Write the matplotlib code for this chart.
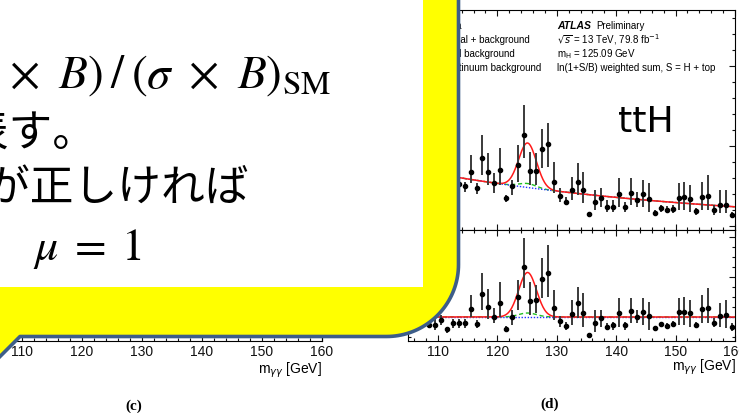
import numpy as np
import matplotlib
matplotlib.use("Agg")
import matplotlib.pyplot as plt
from matplotlib.path import Path
from matplotlib.patches import PathPatch, Rectangle
from matplotlib.ticker import MultipleLocator
from matplotlib.transforms import Affine2D

W, H, DPI = 739, 413, 100

# ---- ln(1+S/B)-weighted diphoton mass spectrum, 1 GeV bins (ttH category) ----
bin_centres = np.arange(105.5, 160.0, 1.0)

weighted_events = [6.0, 5.1, 6.1, 4.6, 4.5, 4.8, 3.8, 4.3, 4.2,
                   4.00, 5.43, 3.77, 6.83, 5.43, 4.27, 5.60, 2.77, 4.00, 6.10,
                   9.10, 5.50, 5.50, 7.67, 8.17, 4.43, 3.03, 2.43, 3.60, 4.43,
                   3.60, 1.20, 2.43, 2.83, 1.93, 1.93, 3.17, 1.87, 3.27, 2.60,
                   3.17, 2.67, 1.33, 1.77, 1.60, 1.70, 2.83, 2.93, 2.67, 1.50,
                   2.93, 3.00, 1.60, 2.10, 2.10, 1.10]
err_up = [1.0, 0.5, 1.2, 0.3, 0.67, 0.5, 0.23, 0.4, 0.4,
          0.43, 1.67, 0.5, 2.27, 1.83, 1.0, 2.17, 0.33, 0.6, 2.0,
          3.0, 1.93, 1.77, 2.0, 2.1, 2.0, 0.73, 0.5, 1.33, 1.83,
          1.83, 0.23, 1.17, 0.93, 0.67, 0.67, 1.6, 0.57, 1.5, 0.83,
          1.43, 1.6, 0.27, 0.33, 0.4, 0.4, 1.43, 1.5, 1.43, 0.33,
          1.5, 2.1, 0.5, 1.5, 1.5, 0.33]
err_down = [0.9, 0.5, 1.0, 0.3, 0.5, 0.5, 0.37, 0.5, 0.5,
            0.57, 1.17, 0.6, 1.73, 1.33, 1.0, 1.5, 0.33, 0.9, 1.67,
            2.33, 1.4, 1.4, 1.9, 2.23, 1.17, 0.6, 0.33, 1.0, 1.33,
            1.33, 0.27, 0.83, 0.9, 0.5, 0.5, 1.23, 0.43, 1.17, 0.67,
            1.23, 1.23, 0.23, 0.33, 0.33, 0.43, 1.23, 1.33, 1.23, 0.4,
            1.33, 1.4, 0.5, 0.83, 0.83, 0.33]

# data minus continuum background
residuals = [0.3, -0.5, 0.6, -0.8, -0.8, -0.3, -1.2, -0.63, -0.63,
             -0.63, 0.77, -0.7, 2.27, 1.03, 0.03, 1.37, -1.2, -0.03, 2.03,
             5.03, 1.6, 1.7, 3.8, 4.43, 0.87, -0.4, -0.9, 0.27, 1.37,
             0.43, -1.8, -0.63, -0.13, -0.97, -0.8, 0.43, -0.8, 0.6, 0.03,
             0.53, 0.1, -1.13, -0.73, -0.87, -0.7, 0.53, 0.53, 0.37, -0.8,
             0.77, 0.87, -0.57, 0.1, 0.2, -0.97]
res_err_up = [1.0, 0.5, 1.2, 0.3, 0.67, 0.5, 0.23, 0.4, 0.4,
              0.4, 1.43, 0.4, 2.1, 1.73, 0.83, 2.17, 0.3, 0.73, 1.67,
              2.83, 1.93, 1.5, 2.07, 2.77, 1.83, 0.5, 0.43, 1.43, 1.67,
              1.93, 0.17, 1.33, 0.83, 0.33, 0.33, 1.43, 0.33, 1.27, 0.67,
              1.33, 1.43, 0.23, 0.27, 0.3, 0.33, 1.33, 1.5, 1.33, 0.33,
              1.43, 2.0, 0.43, 1.33, 1.5, 0.33]
res_err_down = [0.9, 0.5, 1.0, 0.3, 0.5, 0.5, 0.37, 0.5, 0.5,
                0.5, 0.8, 0.43, 1.57, 1.27, 0.67, 1.33, 0.33, 0.77, 1.33,
                2.17, 1.4, 1.33, 1.93, 2.4, 1.17, 0.57, 0.4, 1.07, 1.5,
                1.4, 0.23, 0.83, 0.83, 0.33, 0.5, 1.4, 0.5, 1.23, 0.67,
                1.33, 1.4, 0.23, 0.3, 0.33, 0.33, 1.33, 1.33, 1.33, 0.33,
                1.4, 1.5, 0.47, 1.07, 1.33, 0.4]

# fitted model: exponential continuum + Higgs peak (+ small resonant background)
M_H = 125.09
PEAK_WIDTH = 1.5
SIGNAL_HEIGHT = 4.05
RESONANT_BKG_HEIGHT = 0.4
CONT_NORM = 4.77
CONT_REF = 114.3
CONT_SLOPE = 0.0199

legend_labels = ["Data", "Signal + background", "Total background",
                 "Continuum background"]
atlas_lines = [r"$\sqrt{s}$ = 13 TeV, 79.8 fb$^{-1}$",
               r"m$_{\mathrm{H}}$ = 125.09 GeV",
               "ln(1+S/B) weighted sum, S = H + top"]
x_ticks = [110, 120, 130, 140, 150, 160]

RED, GREEN, BLUE = "#ff1a1a", "#22c022", "#2233ff"
YELLOW, OUTLINE = "#ffff00", "#3d5d89"
TICK_FONT = "Liberation Sans"

fig = plt.figure(figsize=(W / DPI, H / DPI), dpi=DPI)
fig.patch.set_facecolor("white")
px = Affine2D().scale(1 / W, -1 / H).translate(0, 1) + fig.transFigure


def rect(x0, y0, x1, y1):
    return [x0 / W, 1 - y1 / H, (x1 - x0) / W, (y1 - y0) / H]


def style(ax, show_labels):
    ax.set_xlim(105, 160)
    ax.xaxis.set_minor_locator(MultipleLocator(2))
    ax.set_xticks(x_ticks)
    ax.tick_params(which="both", direction="in", top=True, right=True,
                   width=0.8, labelsize=10, pad=3, colors="#111111")
    ax.tick_params(which="major", length=4.5)
    ax.tick_params(which="minor", length=2.3)
    ax.tick_params(axis="x", labelbottom=show_labels)
    ax.tick_params(axis="y", labelleft=False)
    for s in ax.spines.values():
        s.set_linewidth(0.8)
    for lab in ax.get_xticklabels():
        lab.set_fontfamily(TICK_FONT)


grid = np.linspace(105, 160, 600)
continuum = CONT_NORM * np.exp(-CONT_SLOPE * (grid - CONT_REF))
peak_shape = np.exp(-0.5 * ((grid - M_H) / PEAK_WIDTH) ** 2)
signal = SIGNAL_HEIGHT * peak_shape
resonant = RESONANT_BKG_HEIGHT * peak_shape

pt_kw = dict(fmt="o", ms=3.0, color="black", ecolor="#3a3a3a",
             elinewidth=1.4, capsize=0, zorder=5)

# upper panel (d): weighted events
ax_top = fig.add_axes(rect(408.2, 10, 735, 230))
style(ax_top, False)
ax_top.set_ylim(-0.4, 21.6)
ax_top.yaxis.set_major_locator(MultipleLocator(8))
ax_top.yaxis.set_minor_locator(MultipleLocator(1.6))
ax_top.errorbar(bin_centres, weighted_events, yerr=[err_down, err_up], **pt_kw)
ax_top.plot(grid, continuum + signal + resonant, color=RED, lw=1.1, zorder=4)
ax_top.plot(grid, continuum + resonant, color=GREEN, lw=1.0, ls=(0, (3, 2)), zorder=3)
ax_top.plot(grid, continuum, color=BLUE, lw=1.0, ls=(0, (1, 1.2)), zorder=3)

# lower panel (d): continuum-subtracted
ax_bot = fig.add_axes(rect(408.2, 230, 735, 340.5))
style(ax_bot, True)
ax_bot.set_ylim(-2.35, 8.7)
ax_bot.yaxis.set_major_locator(MultipleLocator(4))
ax_bot.yaxis.set_minor_locator(MultipleLocator(1))
ax_bot.errorbar(bin_centres, residuals, yerr=[res_err_down, res_err_up], **pt_kw)
ax_bot.plot(grid, signal + resonant, color=RED, lw=1.1, zorder=4)
ax_bot.plot(grid, resonant, color=GREEN, lw=1.0, ls=(0, (3, 2)), zorder=3)
ax_bot.plot(grid, 0 * grid, color=BLUE, lw=1.0, ls=(0, (1, 1.2)), zorder=3)

# lower panel (c)
ax_c = fig.add_axes(rect(-8, 230, 322, 341))
style(ax_c, True)
ax_c.set_ylim(-2, 8)

# legend and ATLAS label of panel (d)
rows = [26, 40, 54, 68]
for y, lab in zip(rows, legend_labels):
    ax_top.text(441, y, lab, transform=px, fontsize=7, family=TICK_FONT,
                va="center", ha="left")
ax_top.text(557, rows[0], "ATLAS", transform=px, fontsize=7.5, family=TICK_FONT,
            weight="bold", style="italic", va="center", ha="left")
ax_top.text(596, rows[0], "Preliminary", transform=px, fontsize=7,
            family=TICK_FONT, va="center", ha="left")
for y, lab in zip(rows[1:], atlas_lines):
    ax_top.text(557, y, lab, transform=px, fontsize=7, family=TICK_FONT,
                va="center", ha="left", math_fontfamily="dejavusans")
ax_top.text(618, 132, "ttH", transform=px, fontsize=26, family="DejaVu Sans",
            va="baseline", ha="left")

# axis titles and panel tags
for xr, yc in [(322, 370), (736, 367)]:
    fig.text(xr, yc, r"m$_{\gamma\gamma}$ [GeV]", transform=px, fontsize=10,
             family=TICK_FONT, ha="right", va="center",
             math_fontfamily="dejavusans")
fig.text(134, 406, "(c)", transform=px, fontsize=11, family="Liberation Serif",
         weight="bold", ha="center", va="center")
fig.text(550, 404, "(d)", transform=px, fontsize=11, family="Liberation Serif",
         weight="bold", ha="center", va="center")

# callout overlay in pixel coordinates
ov = fig.add_axes([0, 0, 1, 1], zorder=10)
ov.set_xlim(0, W)
ov.set_ylim(H, 0)
ov.axis("off")
ov.patch.set_alpha(0)

R = 72.0
XR, YB = 458.5, 336.5
ang = np.linspace(0, np.pi / 2, 40)
arc = np.column_stack([XR - R + R * np.cos(ang), YB - R + R * np.sin(ang)])
outline = np.vstack([[[-80, -80], [XR, -80], [XR, YB - R]], arc,
                     [[20, YB], [-45, YB + 65], [-80, YB + 65], [-80, -80]]])
codes = [Path.MOVETO] + [Path.LINETO] * (len(outline) - 2) + [Path.CLOSEPOLY]
ov.add_patch(PathPatch(Path(outline, codes), facecolor=YELLOW,
                       edgecolor=OUTLINE, lw=2.6, joinstyle="round", zorder=1))
ov.add_patch(Rectangle((-80, -80), 423 + 80, 286.5 + 80, facecolor="white",
                       edgecolor="none", zorder=2))

JP = ["Noto Sans CJK JP", "DejaVu Sans"]
ov.text(331, 88,
        r"$\mu\;=\;(\sigma\ \times\ B)\:/\:(\sigma\ \times\ B)_{\mathrm{SM}}$",
        fontsize=34, ha="right", va="baseline", math_fontfamily="stix", zorder=3)
ov.text(96, 146, "信号強度を表す。", fontsize=31.5, family=JP, ha="right",
        va="baseline", zorder=3)
ov.text(249, 201, "標準模型が正しければ", fontsize=31.5, family=JP, ha="right",
        va="baseline", zorder=3)
ov.text(33, 260, r"$\mu\;=\;1$", fontsize=33, ha="left", va="baseline",
        math_fontfamily="stix", zorder=3)

fig.savefig("out.png", dpi=DPI, facecolor="white")
